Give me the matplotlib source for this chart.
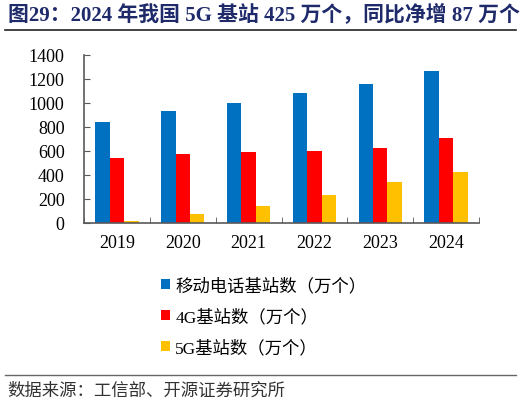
#!/usr/bin/env python3
'''5G base station chart'''
import matplotlib
matplotlib.use('Agg')
import matplotlib.pyplot as plt
from matplotlib.lines import Line2D
import numpy as np

years = ['2019', '2020', '2021', '2022', '2023', '2024']
total_bs = [841, 931, 996, 1083, 1162, 1265]
bs_4g = [544, 575, 590, 603, 629, 711]
bs_5g = [13, 71.8, 142.5, 231.2, 337.7, 425.1]
labels = ['移动电话基站数（万个）', '4G基站数（万个）', '5G基站数（万个）']
colors = ['#0070C0', '#FF0000', '#FFC000']

plt.rcParams['font.family'] = ['Liberation Serif', 'Noto Sans CJK SC']

fig = plt.figure(figsize=(5.22, 4.06), dpi=100)
ax = fig.add_axes([84 / 522, 1 - 224 / 406, (479 - 84) / 522, (224 - 56) / 406])

x = np.arange(len(years))
w = 0.22
for i, vals in enumerate([total_bs, bs_4g, bs_5g]):
    ax.bar(x + (i - 1) * w, vals, w, color=colors[i], label=labels[i])

ax.set_xlim(-0.5, len(years) - 0.5)
ax.set_ylim(0, 1400)
ax.set_yticks(range(0, 1401, 200))
ax.set_xticks(x)
ax.set_xticklabels(years)
ax.set_xticks(np.arange(-0.5, len(years), 1), minor=True)
ax.tick_params(axis='x', which='major', length=0, pad=8, labelsize=13)
ax.tick_params(axis='x', which='minor', direction='in', length=4, color='#595959')
ax.tick_params(axis='y', direction='in', length=4, pad=14, labelsize=13, color='#595959')
for s in ['top', 'right']:
    ax.spines[s].set_visible(False)
for s in ['left', 'bottom']:
    ax.spines[s].set_color('#595959')
    ax.spines[s].set_linewidth(1.2)

fig.legend(loc='upper left', bbox_to_anchor=(145 / 522, 1 - 263 / 406), frameon=False,
           fontsize=12.5, handlelength=0.55, handleheight=0.55, handletextpad=0.3,
           labelspacing=0.82)

fig.text(8 / 522, 1 - 15 / 406, '图29：2024 年我国 5G 基站 425 万个，同比净增 87 万个',
         fontsize=15, fontweight='bold', color='#1F2A6B', va='center', ha='left')
fig.add_artist(Line2D([5 / 522, 516 / 522], [1 - 31 / 406] * 2, color='#222222', lw=1.2))
fig.add_artist(Line2D([5 / 522, 516 / 522], [1 - 376 / 406] * 2, color='#666666', lw=1.0))
fig.text(7 / 522, 1 - 392 / 406, '数据来源：工信部、开源证券研究所', fontsize=12.5,
         color='#333333', va='center', ha='left')

plt.savefig('out.png', dpi=100)
